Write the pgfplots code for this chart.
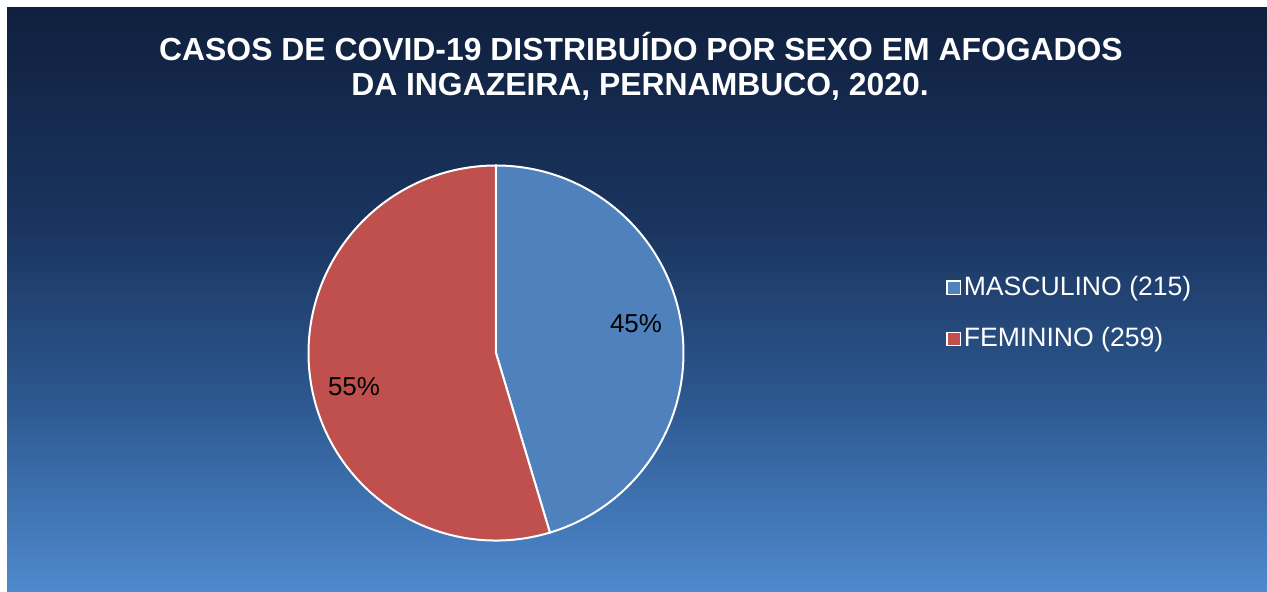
\documentclass[border=0pt]{standalone}
\usepackage{pgfplots}
\pgfplotsset{compat=1.18}
\usepackage{pgfplotstable}
\usepackage{fontspec}
\setmainfont{Liberation Sans}
\definecolor{bgA}{HTML}{10203E}
\definecolor{bgB}{HTML}{1A3560}
\definecolor{bgC}{HTML}{2E5A92}
\definecolor{bgD}{HTML}{4F8ACE}
\definecolor{pieblue}{HTML}{4F81BD}
\definecolor{piered}{HTML}{C0504D}
\pgfplotstableread{
label value
MASCULINO 215
FEMININO 259
}\piedata
\pgfplotstablegetelem{0}{value}\of\piedata \let\va\pgfplotsretval
\pgfplotstablegetelem{1}{value}\of\piedata \let\vb\pgfplotsretval
\pgfmathsetmacro\fracA{\va/(\va+\vb)}
\pgfmathsetmacro\angA{360*\fracA}
\pgfmathsetmacro\endA{90-\angA}
\pgfmathtruncatemacro\pA{round(100*\fracA)}
\pgfmathtruncatemacro\pB{100-\pA}
\begin{document}
\begin{tikzpicture}
\fill[white] (0,0) rectangle (633.5bp,296bp);
\shade[top color=bgA, bottom color=bgB] (3.5bp,181bp) rectangle (633.5bp,292bp);
\shade[top color=bgB, bottom color=bgC] (3.5bp,91bp) rectangle (633.5bp,181.2bp);
\shade[top color=bgC, bottom color=bgD] (3.5bp,0bp) rectangle (633.5bp,91.2bp);
\begin{axis}[
  x=0.5bp, y=0.5bp, xmin=0, xmax=1267, ymin=0, ymax=592,
  scale only axis, hide axis, anchor=origin, at={(0,0)}, clip=false,
  legend style={at={(axis cs:940,323)}, anchor=north west, draw=none, fill=none,
    text=white, font=\fontsize{13.35}{15}\selectfont, row sep=11.5bp,
    nodes={inner sep=1.5bp}},
  legend cell align=left,
  legend image code/.code={\draw[#1] (0bp,-3.3bp) rectangle (6.6bp,3.3bp);},
]
\filldraw[fill=pieblue, draw=white, line width=1bp] (axis cs:496,239) -- ++(90:93.75bp)
  arc[start angle=90, end angle=\endA, radius=93.75bp] -- cycle;
\filldraw[fill=piered, draw=white, line width=1bp] (axis cs:496,239) -- ++(\endA:93.75bp)
  arc[start angle=\endA, end angle=-270, radius=93.75bp] -- cycle;
\node[font=\fontsize{13}{15}\selectfont] at (axis cs:636,268.5) {\pA\%};
\node[font=\fontsize{13}{15}\selectfont] at (axis cs:354,205) {\pB\%};
\node[text=white, font=\bfseries\fontsize{16}{18}\selectfont, anchor=base] at (axis cs:641,532) {CASOS DE COVID-19 DISTRIBUÍDO POR SEXO EM AFOGADOS};
\node[text=white, font=\bfseries\fontsize{16}{18}\selectfont, anchor=base] at (axis cs:640,497) {DA INGAZEIRA, PERNAMBUCO, 2020.};
\addlegendimage{fill=pieblue, draw=white, line width=0.6bp}
\addlegendentry{MASCULINO (\va)}
\addlegendimage{fill=piered, draw=white, line width=0.6bp}
\addlegendentry{FEMININO (\vb)}
\end{axis}
\end{tikzpicture}
\end{document}
